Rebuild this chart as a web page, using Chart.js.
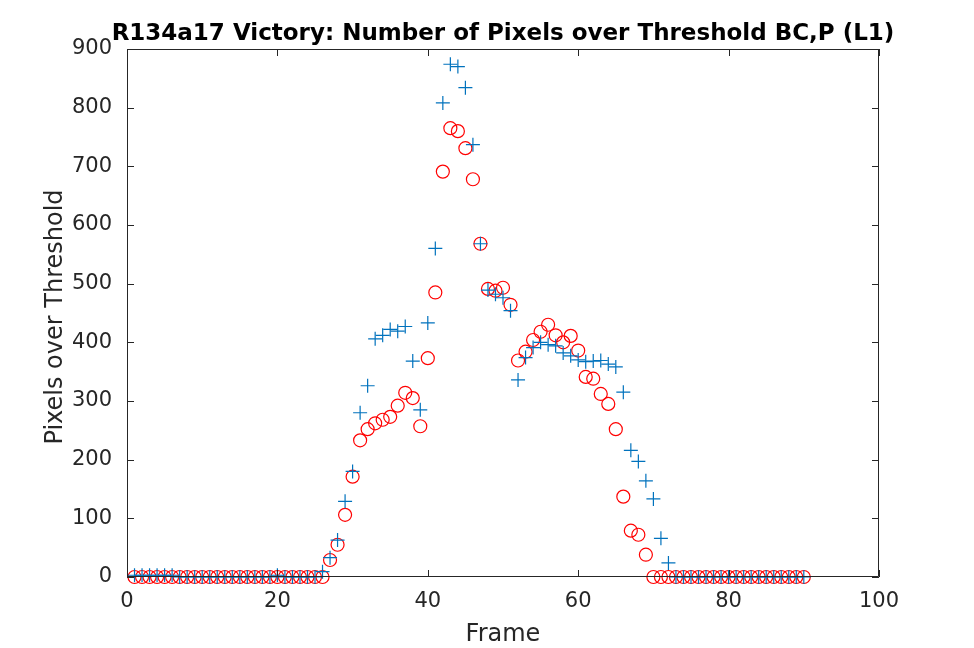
<!DOCTYPE html>
<html lang="en">
<head>
    <meta charset="UTF-8">
    <title>R134a17 Victory: Number of Pixels over Threshold</title>
    <script src="https://cdn.jsdelivr.net/npm/chart.js"></script>
    <style>
        html, body { margin: 0; padding: 0; background: #ffffff; }
        #wrap { width: 974px; height: 648px; position: relative; }
    </style>
</head>
<body>
<div id="wrap"><canvas id="pixelChart"></canvas></div>
<script>
    // frame numbers 1..90
    const frames = [
        1, 2, 3, 4, 5, 6, 7, 8, 9, 10, 11, 12, 13, 14, 15, 16, 17, 18, 19, 20,
        21, 22, 23, 24, 25, 26, 27, 28, 29, 30, 31, 32, 33, 34, 35, 36, 37, 38, 39, 40,
        41, 42, 43, 44, 45, 46, 47, 48, 49, 50, 51, 52, 53, 54, 55, 56, 57, 58, 59, 60,
        61, 62, 63, 64, 65, 66, 67, 68, 69, 70, 71, 72, 73, 74, 75, 76, 77, 78, 79, 80,
        81, 82, 83, 84, 85, 86, 87, 88, 89, 90
    ];
    // blue '+' series
    const plusCounts = [
        3, 3, 3, 3, 3, 3, 0, 0, 0, 0, 0, 0, 0, 0, 0, 0, 0, 0, 0, 3,
        0, 0, 0, 0, 0, 9, 33, 63, 129, 180, 280, 326, 406, 412, 422, 419, 427, 368, 285, 433,
        560, 808, 874, 870, 834, 737, 568, 489, 482, 476, 454, 336, 374, 391, 400, 396, 394, 382, 377, 370,
        367, 368, 369, 363, 358, 315, 216, 197, 164, 133, 66, 24, 0, 0, 0, 0, 0, 0, 0, 0,
        0, 0, 0, 0, 0, 0, 0, 0, 0, 0
    ];
    // red 'o' series
    const circleCounts = [
        0, 0, 0, 0, 0, 0, 0, 0, 0, 0, 0, 0, 0, 0, 0, 0, 0, 0, 0, 0,
        0, 0, 0, 0, 0, 0, 29, 55, 106, 171, 233, 252, 262, 268, 273, 292, 314, 305, 257, 373,
        485, 691, 765, 760, 731, 678, 568, 491, 488, 493, 464, 369, 384, 404, 418, 430, 412, 400, 411, 386,
        341, 338, 312, 295, 252, 137, 79, 72, 38, 0, 0, 0, 0, 0, 0, 0, 0, 0, 0, 0,
        0, 0, 0, 0, 0, 0, 0, 0, 0, 0
    ];
    const xTicks = [0, 20, 40, 60, 80, 100];
    const yTicks = [0, 100, 200, 300, 400, 500, 600, 700, 800, 900];

    const titleText = 'R134a17 Victory: Number of Pixels over Threshold BC,P (L1)';
    const xLabel = 'Frame';
    const yLabel = 'Pixels over Threshold';

    const axisColor = '#262626';
    const fontFamily = '"DejaVu Sans", sans-serif';

    // plot box edges in page pixels (matlab axes position)
    const BOX = { left: 127, right: 879, top: 49, bottom: 577 };

    const toPoints = (vals) => frames.map((f, i) => ({ x: f, y: vals[i] }));

    // box, inward ticks, titles
    const matlabAxes = {
        id: 'matlabAxes',
        afterDraw(chart) {
            const { ctx, chartArea: a, scales } = chart;
            ctx.save();
            ctx.strokeStyle = axisColor;
            ctx.lineWidth = 1;
            ctx.beginPath();
            ctx.rect(a.left + 0.5, a.top + 0.5, a.right - a.left - 1, a.bottom - a.top - 1);
            ctx.stroke();

            const tl = 7;
            ctx.beginPath();
            xTicks.forEach(v => {
                const px = Math.round(scales.x.getPixelForValue(v)) + 0.5;
                ctx.moveTo(px, a.bottom); ctx.lineTo(px, a.bottom - tl);
                ctx.moveTo(px, a.top); ctx.lineTo(px, a.top + tl);
            });
            yTicks.forEach(v => {
                const py = Math.round(scales.y.getPixelForValue(v)) + 0.5;
                ctx.moveTo(a.left, py); ctx.lineTo(a.left + tl, py);
                ctx.moveTo(a.right, py); ctx.lineTo(a.right - tl, py);
            });
            ctx.stroke();

            ctx.fillStyle = '#000000';
            ctx.textAlign = 'center';
            ctx.textBaseline = 'alphabetic';
            ctx.font = 'bold 23px ' + fontFamily;
            ctx.fillText(titleText, (a.left + a.right) / 2, 40);

            ctx.fillStyle = axisColor;
            ctx.font = '24px ' + fontFamily;
            ctx.fillText(xLabel, (a.left + a.right) / 2, 641);
            ctx.translate(62, (a.top + a.bottom) / 2 + 4);
            ctx.rotate(-Math.PI / 2);
            ctx.fillText(yLabel, 0, 0);
            ctx.restore();
        }
    };

    new Chart(document.getElementById('pixelChart'), {
        type: 'scatter',
        data: {
            datasets: [
                {
                    label: 'plus',
                    data: toPoints(plusCounts),
                    pointStyle: 'cross',
                    pointRadius: 7,
                    pointHoverRadius: 7,
                    borderColor: '#0072BD',
                    backgroundColor: '#0072BD',
                    pointBorderWidth: 1.2,
                    clip: false
                },
                {
                    label: 'circle',
                    data: toPoints(circleCounts),
                    pointStyle: 'circle',
                    pointRadius: 6.5,
                    pointHoverRadius: 6.5,
                    borderColor: '#FF0000',
                    backgroundColor: 'rgba(0,0,0,0)',
                    pointBorderWidth: 1.2,
                    clip: false
                }
            ]
        },
        options: {
            responsive: true,
            maintainAspectRatio: false,
            animation: false,
            events: [],
            layout: { padding: { left: 0, right: 974 - BOX.right, top: BOX.top, bottom: 0 } },
            plugins: {
                legend: { display: false },
                tooltip: { enabled: false },
                title: { display: false }
            },
            scales: {
                x: {
                    type: 'linear',
                    min: 0, max: 100,
                    afterBuildTicks: (s) => { s.ticks = xTicks.map(v => ({ value: v })); },
                    grid: { display: false, drawTicks: false },
                    border: { display: false },
                    ticks: { color: axisColor, font: { family: fontFamily, size: 21 }, padding: 12, maxRotation: 0 },
                    afterFit: (s) => { s.height = 648 - BOX.bottom; }
                },
                y: {
                    type: 'linear',
                    min: 0, max: 900,
                    afterBuildTicks: (s) => { s.ticks = yTicks.map(v => ({ value: v })); },
                    grid: { display: false, drawTicks: false },
                    border: { display: false },
                    ticks: { color: axisColor, font: { family: fontFamily, size: 21 }, padding: 15 },
                    afterFit: (s) => { s.width = BOX.left; }
                }
            }
        },
        plugins: [matlabAxes]
    });
</script>
</body>
</html>
